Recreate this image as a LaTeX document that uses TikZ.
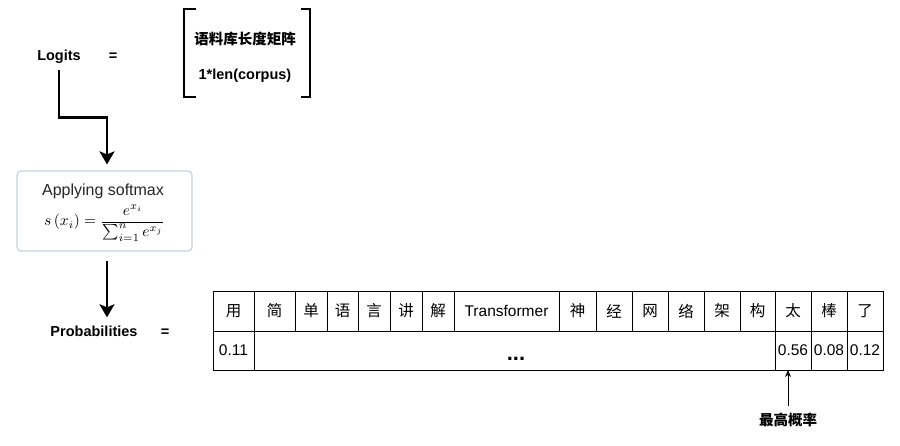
\documentclass[tikz,border=0pt]{standalone}
\usepackage{fontspec}
\setmainfont{Liberation Sans}
\newfontfamily\cjk{Noto Sans CJK SC}
\usetikzlibrary{arrows.meta}
\definecolor{boxc}{RGB}{200,210,224}
\begin{document}
\begin{tikzpicture}[x=1pt,y=-1pt,
  lbl/.style={font=\fontsize{14.5}{17}\selectfont\bfseries, inner sep=0pt},
  cell/.style={draw, line width=0.8pt, inner sep=0pt, outer sep=0pt, font=\fontsize{15.5}{18}\selectfont},
  bigarrow/.style={line width=2.5pt, -{Stealth[length=13pt,width=15pt,inset=3pt]}},
  smallarrow/.style={line width=0.9pt, -{Stealth[length=7pt,width=6pt]}},
  bracket/.style={line width=2pt},
  softbox/.style={draw=boxc, line width=1.2pt, rounded corners=4pt, fill=white, minimum width=175pt, minimum height=80pt, inner sep=0pt}
]
\useasboundingbox (0,0) rectangle (900,445);

% Logits row
\node[lbl, anchor=base] (logits) at (59,60) {Logits};
\node[lbl, anchor=base] (eq1) at (113,60) {=};
\draw[bracket] (196,9) -- (184,9) -- (184,97) -- (196,97);
\draw[bracket] (301,9) -- (310,9) -- (310,97) -- (301,97);
\node[lbl] (vecA) at (245,38.5) {\cjk 语料库长度矩阵};
\node[lbl, anchor=base] (vecB) at (245,79) {1*len(corpus)};

% softmax box
\node[softbox] (sm) at (104.5,211) {};
\node[anchor=base, inner sep=0pt, font=\fontsize{16}{19}\selectfont, text=black!85] (smt) at (103,195) {Applying softmax};
\node[inner sep=0pt, scale=1.55] (smf) at (104.5,223) {$\displaystyle s\left(x_i\right)=\frac{e^{x_i}}{\sum_{i=1}^{n} e^{x_j}}$};

% arrows
\coordinate (k) at (107,117.5);
\draw[bigarrow, shorten <=7pt, shorten >=6pt] (logits.south) |- (k) -- (k |- sm.north);

% Probabilities row
\node[lbl, anchor=base] (prob) at (94,336) {Probabilities};
\node[lbl, anchor=base] (eq2) at (165,336) {=};
\draw[bigarrow, shorten <=9pt, shorten >=8pt] (k |- sm.south) -- (k |- prob.north);

% table header
\foreach \a/\b/\t [count=\i] in {213/254/{\cjk 用}, 254/295/{\cjk 简}, 295/327/{\cjk 单}, 327/358/{\cjk 语}, 358/390/{\cjk 言}, 390/422/{\cjk 讲}, 422/454/{\cjk 解}, 454/559/{Transformer}, 559/596/{\cjk 神}, 596/632/{\cjk 经}, 632/668/{\cjk 网}, 668/704/{\cjk 络}, 704/740/{\cjk 架}, 740/775/{\cjk 构}, 775/811/{\cjk 太}, 811/847/{\cjk 棒}, 847/883/{\cjk 了}}{
  \node[cell, minimum width={(\b-\a)*1pt}, minimum height=40pt] (h\i) at ({(\a+\b)/2},311) {\t};
}
% table values
\node[cell, minimum width=41pt, minimum height=39pt] (v1) at (233.5,350.5) {0.11};
\node[cell, minimum width=521pt, minimum height=39pt] (vmid) at (514.5,350.5) {};
\node[lbl, anchor=base, font=\fontsize{22}{24}\selectfont\bfseries] (dots) at (516,360) {...};
\node[cell, minimum width=36pt, minimum height=39pt] (v15) at (793,350.5) {0.56};
\node[cell, minimum width=36pt, minimum height=39pt] (v16) at (829,350.5) {0.08};
\node[cell, minimum width=36pt, minimum height=39pt] (v17) at (865,350.5) {0.12};

% highest probability
\node[lbl] (lab) at (788,420) {\cjk 最高概率};
\draw[smallarrow, shorten <=7pt] (lab.north) -- (lab.north |- v15.south);
\end{tikzpicture}
\end{document}
